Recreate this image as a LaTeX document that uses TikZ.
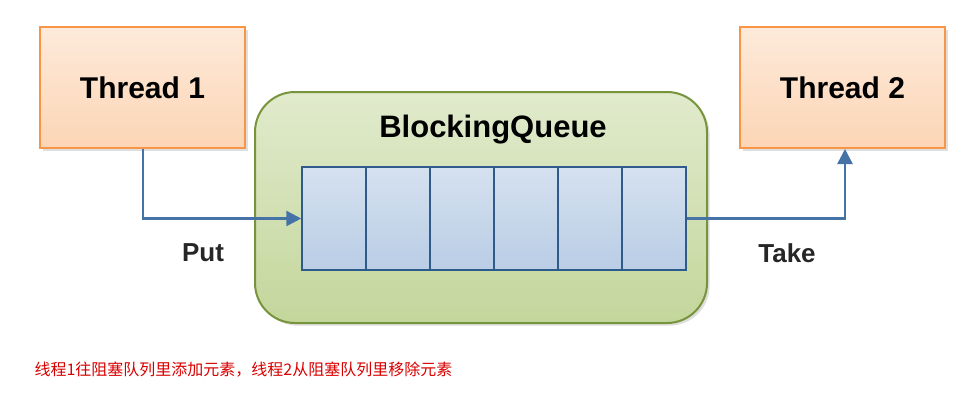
\documentclass[tikz,border=0pt]{standalone}
\usepackage{fontspec}
\setmainfont{Liberation Sans}
\newfontfamily\cjk{Noto Sans CJK SC}
\usetikzlibrary{arrows.meta,shadows}
\definecolor{obord}{HTML}{F79646}
\definecolor{ofill}{HTML}{FCD5B5}
\definecolor{gbord}{HTML}{77933C}
\definecolor{gfill}{HTML}{C3D69B}
\definecolor{cbord}{HTML}{2E5A8C}
\definecolor{cfill}{HTML}{B9CDE5}
\definecolor{arr}{HTML}{4572A7}
\tikzset{
 thread/.style={draw=obord,line width=2pt,top color=ofill!50,bottom color=ofill,minimum width=205pt,minimum height=121pt,font=\bfseries\fontsize{30}{34}\selectfont,drop shadow={opacity=0.25}},
 cell/.style={draw=cbord,line width=1.5pt,top color=cfill!60,bottom color=cfill,minimum width=64pt,minimum height=103pt},
 conn/.style={draw=arr,line width=2.6pt,-{Triangle[length=15pt,width=15pt]}},
 lbl/.style={font=\bfseries\fontsize{26}{30}\selectfont,text=black!85}
}
\begin{document}
\begin{tikzpicture}[x=1pt,y=-1pt]
\useasboundingbox (0,0) rectangle (969,408);
\node[thread] (t1) at (142.5,87.5) {Thread 1};
\node[thread] (t2) at (842.5,87.5) {Thread 2};
\node[draw=gbord,line width=2pt,rounded corners=40pt,top color=gfill!50,bottom color=gfill,minimum width=452pt,minimum height=231pt,drop shadow={opacity=0.25}] (bq) at (481,207.5) {};
\node[font=\bfseries\fontsize{31}{36}\selectfont] (title) at (493,130) {BlockingQueue};
\foreach \i in {0,...,5}{
 \node[cell] (c\i) at ({334+\i*64},218.5) {};
}
\draw[conn] (t1.south -| 143,0) |- (c0.west);
\draw[conn] (c5.east) -| (t2.south -| 845,0);
\node[lbl] (put) at (203,253) {Put};
\node[lbl] (take) at (787,253) {Take};
\node[anchor=west,text=red!85!black,font=\cjk\fontsize{16}{19}\selectfont] (cap) at (31,370) {线程1往阻塞队列里添加元素，线程2从阻塞队列里移除元素};
\end{tikzpicture}
\end{document}
